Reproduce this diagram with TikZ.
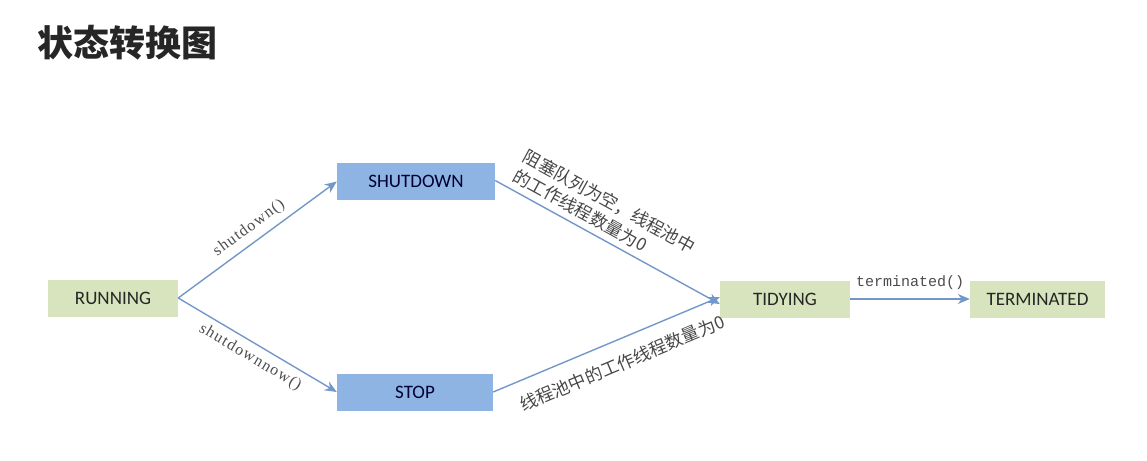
\documentclass[tikz,border=0pt]{standalone}
\usepackage{fontspec}
\setmainfont{Liberation Serif}
\newfontfamily\cjk{Noto Sans CJK SC}
\newfontfamily\boxfont{Carlito}
\newfontfamily\monofont{Liberation Mono}
\newfontfamily\spacedserif[LetterSpace=8]{Liberation Serif}
\usetikzlibrary{arrows.meta}
\definecolor{greenbox}{HTML}{D7E4BD}
\definecolor{bluebox}{HTML}{8DB4E2}
\definecolor{linecol}{HTML}{7397C8}
\begin{document}
\begin{tikzpicture}[x=1pt,y=-1pt,
  state/.style={draw=none, minimum height=37pt, inner sep=0pt, font=\boxfont\fontsize{19}{22}\selectfont, text=black!85},
  gstate/.style={state, fill=greenbox},
  bstate/.style={state, fill=bluebox, text=black!80!blue},
  conn/.style={draw=linecol, line width=1.4pt, -{Stealth[length=12pt,width=10pt]}},
  lab/.style={font=\spacedserif\fontsize{16}{18}\selectfont, text=black!70},
  cjklab/.style={font=\cjk\fontsize{17.5}{22}\selectfont, text=black!72}
]
\useasboundingbox (0,0) rectangle (1147,460);
\node[anchor=west, font=\cjk\bfseries\fontsize{36}{40}\selectfont, text=black!85] (title) at (34,43) {状态转换图};

\node[gstate, minimum width=130pt] (run) at (113,298) {RUNNING};
\node[bstate, minimum width=158pt] (shut) at (416,181.5) {SHUTDOWN};
\node[bstate, minimum width=156pt] (stop) at (415,392) {STOP};
\node[gstate, minimum width=130pt] (tidy) at (785,299) {TIDYING};
\node[gstate, minimum width=135pt] (term) at (1037.5,299) {TERMINATED};

\draw[conn] (run.east) -- (shut.west) node[lab, midway, sloped, above, yshift=3pt] {shutdown()};
\draw[conn] (run.east) -- (stop.west) node[lab, midway, sloped, below, yshift=-3pt] {shutdownnow()};
\draw[conn] ([yshift=1pt]shut.east) -- ([yshift=-5pt]tidy.west)
  node[cjklab, pos=0.43, sloped, above, align=left, yshift=5pt, inner sep=1pt] {阻塞队列为空，线程池中\\的工作线程数量为0\hspace*{2.2em}};
\draw[conn] (stop.east) -- ([yshift=2pt]tidy.west)
  node[cjklab, pos=0.53, sloped, below, yshift=-11pt] {线程池中的工作线程数量为0};
\draw[conn] (tidy.east) -- (term.west) node[font=\monofont\fontsize{15}{17}\selectfont, text=black!70, midway, above, yshift=5pt] {terminated()};
\end{tikzpicture}
\end{document}
